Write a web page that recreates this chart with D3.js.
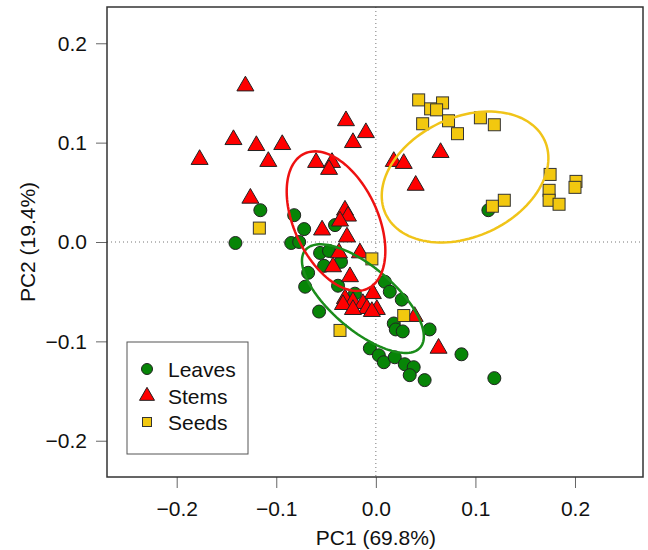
<!DOCTYPE html>
<html>
<head>
<meta charset="utf-8">
<script src="https://cdn.jsdelivr.net/npm/d3@7"></script>
<style>
  body { margin: 0; background: #fff; }
  svg text { font-family: "Liberation Sans", Arial, Helvetica, sans-serif; }
</style>
</head>
<body>
<svg id="chart" width="648" height="550"></svg>
<script>
// PCA scores, [PC1, PC2]
var leaves = [
  [-0.116, 0.032], [-0.082, 0.027], [-0.072, 0.013], [-0.041, 0.017], [-0.141, -0.001],
  [-0.085, -0.001], [-0.077, 0.000], [-0.056, -0.011], [-0.047, -0.009], [-0.035, -0.020],
  [-0.052, -0.024], [-0.068, -0.031], [-0.071, -0.045], [-0.038, -0.044], [-0.021, -0.052],
  [0.009, -0.040], [0.014, -0.050], [0.026, -0.058], [-0.057, -0.070], [0.018, -0.082],
  [0.020, -0.088], [0.027, -0.090], [0.054, -0.088], [-0.006, -0.107], [0.003, -0.114],
  [0.008, -0.121], [0.019, -0.116], [0.029, -0.123], [0.038, -0.126], [0.034, -0.134],
  [0.049, -0.139], [0.086, -0.113], [0.119, -0.137], [0.113, 0.032]
];
var stems = [
  [-0.131, 0.157], [-0.030, 0.122], [-0.010, 0.110], [-0.143, 0.103], [-0.120, 0.097],
  [-0.094, 0.098], [-0.023, 0.100], [-0.177, 0.083], [-0.108, 0.081], [-0.060, 0.080],
  [-0.044, 0.080], [-0.047, 0.073], [-0.126, 0.044], [-0.031, 0.032], [-0.028, 0.026],
  [-0.036, 0.021], [-0.054, 0.012], [-0.029, 0.005], [-0.037, -0.011], [-0.016, -0.011],
  [-0.043, -0.025], [-0.026, -0.035], [-0.003, -0.052], [-0.031, -0.057], [-0.023, -0.060],
  [-0.033, -0.063], [-0.013, -0.062], [-0.009, -0.067], [0.001, -0.068], [-0.004, -0.070],
  [-0.023, -0.068], [0.039, -0.075], [0.063, -0.107], [0.018, 0.081], [0.028, 0.079],
  [0.065, 0.090], [0.040, 0.057]
];
var seeds = [
  [0.043, 0.143], [0.055, 0.134], [0.067, 0.140], [0.061, 0.133], [0.047, 0.119],
  [0.073, 0.122], [0.082, 0.109], [0.105, 0.125], [0.119, 0.118], [0.175, 0.068],
  [0.201, 0.061], [0.200, 0.055], [0.174, 0.052], [0.174, 0.042], [0.184, 0.038],
  [0.129, 0.042], [0.117, 0.036], [-0.117, 0.014], [-0.004, -0.017], [0.028, -0.074],
  [-0.036, -0.089]
];

// confidence ellipses: [centre PC1, centre PC2, semi-major, semi-minor, angle (deg)]
var leavesEllipse = [-0.013, -0.057, 0.0757, 0.0317, -40.4];
var stemsEllipse  = [-0.040, 0.021, 0.075, 0.042, -65];
var seedsEllipse  = [0.0896, 0.0654, 0.088, 0.060, 25];

var xTicks = [-0.2, -0.1, 0.0, 0.1, 0.2];
var yTicks = [-0.2, -0.1, 0.0, 0.1, 0.2];
var groups = ["Leaves", "Stems", "Seeds"];

var svg = d3.select("#chart");
var pLeft = 107, pRight = 643, pTop = 7, pBottom = 477;
var fs = 21;

var x = d3.scaleLinear().domain([-0.27, 0.2683]).range([pLeft, pRight]);
var y = d3.scaleLinear().domain([-0.2365, 0.2365]).range([pBottom, pTop]);

var fmt = function(d) { return d3.format(".1f")(d).replace("-", "\u2212"); };

// zero lines
svg.append("line")
  .attr("x1", x(0)).attr("x2", x(0)).attr("y1", pTop).attr("y2", pBottom)
  .attr("stroke", "#777").attr("stroke-width", 1).attr("stroke-dasharray", "1,3");
svg.append("line")
  .attr("x1", pLeft).attr("x2", pRight).attr("y1", y(0)).attr("y2", y(0))
  .attr("stroke", "#777").attr("stroke-width", 1).attr("stroke-dasharray", "1,3");

// axes
var xAxis = svg.append("g").attr("transform", "translate(0," + pBottom + ")")
  .call(d3.axisBottom(x).tickValues(xTicks).tickFormat(fmt).tickSize(11).tickPadding(13));
var yAxis = svg.append("g").attr("transform", "translate(" + pLeft + ",0)")
  .call(d3.axisLeft(y).tickValues(yTicks).tickFormat(fmt).tickSize(11).tickPadding(9));
[xAxis, yAxis].forEach(function(g) {
  g.select(".domain").remove();
  g.selectAll(".tick line").attr("stroke", "#666");
  g.selectAll("text").attr("font-size", fs).attr("fill", "#111")
    .style("font-family", "'Liberation Sans', Arial, sans-serif");
});

// markers
function triPath(s) {
  var xc = s, r = 1.1547 * xc, yc = 0.5774 * xc;
  return "M0," + (-r) + "L" + xc + "," + yc + "L" + (-xc) + "," + yc + "Z";
}

svg.append("g").selectAll("circle").data(leaves).enter().append("circle")
  .attr("cx", function(d) { return x(d[0]); })
  .attr("cy", function(d) { return y(d[1]); })
  .attr("r", 6.5)
  .attr("fill", "#078507").attr("stroke", "#222").attr("stroke-width", 1);

svg.append("g").selectAll("path").data(stems).enter().append("path")
  .attr("transform", function(d) { return "translate(" + x(d[0]) + "," + y(d[1]) + ")"; })
  .attr("d", triPath(8.5))
  .attr("fill", "#ff0000").attr("stroke", "#222").attr("stroke-width", 1);

svg.append("g").selectAll("rect").data(seeds).enter().append("rect")
  .attr("x", function(d) { return x(d[0]) - 6; })
  .attr("y", function(d) { return y(d[1]) - 6; })
  .attr("width", 12).attr("height", 12)
  .attr("fill", "#f2c80f").attr("stroke", "#333").attr("stroke-width", 1);

// ellipses
function ellipsePts(e) {
  var th = e[4] * Math.PI / 180, pts = [];
  for (var i = 0; i <= 120; i++) {
    var t = i / 120 * 2 * Math.PI;
    pts.push([
      e[0] + e[2] * Math.cos(t) * Math.cos(th) - e[3] * Math.sin(t) * Math.sin(th),
      e[1] + e[2] * Math.cos(t) * Math.sin(th) + e[3] * Math.sin(t) * Math.cos(th)
    ]);
  }
  return pts;
}
var line = d3.line().x(function(d) { return x(d[0]); }).y(function(d) { return y(d[1]); });
[[leavesEllipse, "#1a8c1a"], [stemsEllipse, "#ee1111"], [seedsEllipse, "#f0c419"]].forEach(function(p) {
  svg.append("path").attr("d", line(ellipsePts(p[0])))
    .attr("fill", "none").attr("stroke", p[1]).attr("stroke-width", 2.5);
});

// frame
svg.append("rect").attr("x", pLeft).attr("y", pTop)
  .attr("width", pRight - pLeft).attr("height", pBottom - pTop)
  .attr("fill", "none").attr("stroke", "#333").attr("stroke-width", 1.5);

// axis titles
svg.append("text").attr("x", x(0)).attr("y", 545)
  .attr("text-anchor", "middle").attr("font-size", fs).attr("fill", "#111")
  .text("PC1 (69.8%)");
svg.append("text").attr("transform", "translate(35," + y(0) + ") rotate(-90)")
  .attr("text-anchor", "middle").attr("font-size", fs).attr("fill", "#111")
  .text("PC2 (19.4%)");

// legend
var lg = svg.append("g");
lg.append("rect").attr("x", 127).attr("y", 342).attr("width", 121).attr("height", 112)
  .attr("fill", "#fff").attr("stroke", "#555").attr("stroke-width", 1);
var ly = [369, 396, 422];
lg.append("circle").attr("cx", 147).attr("cy", ly[0]).attr("r", 5.5)
  .attr("fill", "#078507").attr("stroke", "#222");
lg.append("path").attr("transform", "translate(147," + ly[1] + ")").attr("d", triPath(7.5))
  .attr("fill", "#ff0000").attr("stroke", "#222");
lg.append("rect").attr("x", 142.5).attr("y", ly[2] - 4.5).attr("width", 9).attr("height", 9)
  .attr("fill", "#f2c80f").attr("stroke", "#333");
groups.forEach(function(g, i) {
  lg.append("text").attr("x", 168).attr("y", ly[i]).attr("dy", "0.36em")
    .attr("font-size", fs).attr("fill", "#111").text(g);
});
</script>
</body>
</html>
